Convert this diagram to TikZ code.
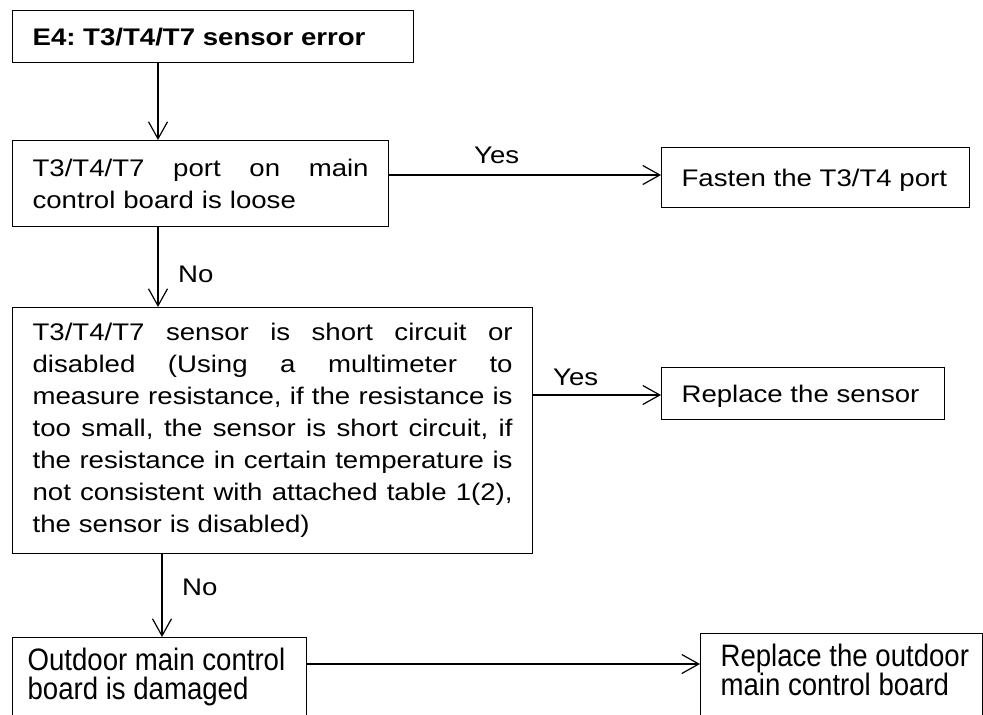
\documentclass[tikz,border=0pt]{standalone}
\usepackage{fontspec}
\setmainfont[FakeStretch=1.15]{Liberation Sans}
\newfontfamily\tallfont[FakeStretch=0.89]{Liberation Sans}
\usetikzlibrary{arrows.meta,calc}
\frenchspacing

% one justified line of a given width (words separated by \gap)
\newcommand{\jline}[2]{\makebox[#1][l]{#2}}
\newcommand{\gap}{\hfill\ }

\tikzset{
  box/.style={draw, line width=1.2pt, rectangle, anchor=north west,
    inner xsep=20pt, inner ysep=0pt, align=left,
    font=\fontsize{24}{32}\selectfont},
  openbox/.style={draw, line width=1.2pt, rectangle, anchor=north west,
    inner xsep=0pt, inner ysep=10pt,
    font=\tallfont\fontsize{31}{29}\selectfont},
  lbl/.style={anchor=base west, inner sep=0pt, font=\fontsize{24}{32}\selectfont},
  flow/.style={line width=1.2pt,
    -{Straight Barb[length=17pt,width=19pt]}},
}

\begin{document}
\begin{tikzpicture}[x=1pt,y=-1pt]
\useasboundingbox (0,0) rectangle (983,715);
\fill[white] (0,0) rectangle (983,715);
\clip (0,0) rectangle (983,715);

% boxes
\node[box, minimum width=401pt, minimum height=52pt, text depth=0pt,
      font=\bfseries\fontsize{24}{32}\selectfont] (err) at (12,10)
  {\makebox[361pt][l]{E4: T3/T4/T7 sensor error}};

\node[box, minimum width=376pt, minimum height=86pt, text width=336pt] (loose) at (12,140)
  {\jline{336pt}{T3/T4/T7\gap port\gap on\gap main}\\control board is loose};

\node[box, minimum width=520pt, minimum height=246pt, text width=480pt] (sens) at (12,307)
  {\jline{480pt}{T3/T4/T7\gap sensor\gap is\gap short\gap circuit\gap or}\\
   \jline{480pt}{disabled\gap (Using\gap a\gap multimeter\gap to}\\
   \jline{480pt}{measure\gap resistance,\gap if\gap the\gap resistance\gap is}\\
   \jline{480pt}{too\gap small,\gap the\gap sensor\gap is\gap short\gap circuit,\gap if}\\
   \jline{480pt}{the\gap resistance\gap in\gap certain\gap temperature\gap is}\\
   \jline{480pt}{not\gap consistent\gap with\gap attached\gap table\gap 1(2),}\\
   the sensor is disabled)};

\node[box, minimum width=308pt, minimum height=60pt, text depth=0pt] (fasten) at (661,147)
  {\makebox[268pt][l]{Fasten the T3/T4 port}};

\node[box, minimum width=283pt, minimum height=52pt, text depth=0pt] (repl) at (661,367)
  {\makebox[243pt][l]{Replace the sensor}};

\node[openbox] (dmg) at (12,637)
  {\begin{minipage}[t][110pt][t]{294pt}\leftskip=15pt Outdoor main control\\board is damaged\end{minipage}};

\node[openbox] (newboard) at (700,633)
  {\begin{minipage}[t][110pt][t]{282pt}\leftskip=20pt Replace the outdoor\\main control board\end{minipage}};

% branch labels
\node[lbl] (yes1) at (474,163) {Yes};
\node[lbl] (no1)  at (178,282) {No};
\node[lbl] (yes2) at (553,385) {Yes};
\node[lbl] (no2)  at (182,595) {No};

% connectors
\draw[flow] ($(err.south west)+(146,0)$) -- ($(loose.north west)+(146,0)$);
\draw[flow] ($(loose.south west)+(146,0)$) -- ($(sens.north west)+(146,0)$);
\draw[flow] ($(sens.south west)+(150,0)$) -- ($(dmg.north west)+(150,0)$);
\draw[flow] (loose.east |- 0,175) -- (fasten.west |- 0,175);
\draw[flow] (sens.east |- 0,395) -- (repl.west |- 0,395);
\draw[flow] (dmg.east |- 0,664) -- (newboard.west |- 0,664);
\end{tikzpicture}
\end{document}
